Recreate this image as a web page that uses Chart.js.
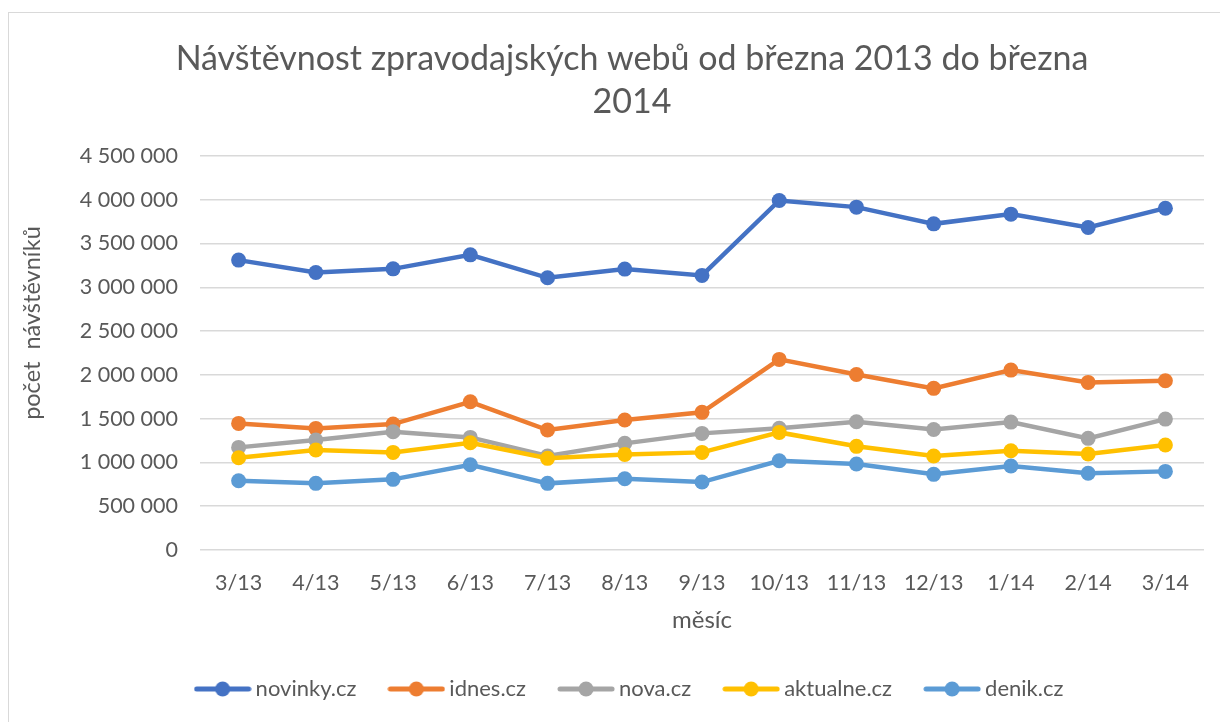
<!DOCTYPE html>
<html lang="cs">
<head>
<meta charset="utf-8">
<title>Návštěvnost zpravodajských webů</title>
<script src="https://cdn.jsdelivr.net/npm/chart.js@4"></script>
<style>
  html, body { margin: 0; padding: 0; background: #fff; overflow: hidden; }
  #frame {
    position: absolute; left: 8px; top: 12px;
    width: 1246px; height: 720px;
    border: 1px solid #d9d9d9;
  }
  #chart { display: block; }
</style>
</head>
<body>
<div id="frame"><canvas id="chart" width="1246" height="710"></canvas></div>
<script>
// měsíce (osa x)
const months = ['3/13', '4/13', '5/13', '6/13', '7/13', '8/13', '9/13', '10/13', '11/13', '12/13', '1/14', '2/14', '3/14'];

// počet návštěvníků
const novinky  = [3311000, 3170000, 3211000, 3371000, 3109000, 3208000, 3136000, 3992000, 3916000, 3725000, 3836000, 3684000, 3904000];
const idnes    = [1446000, 1389000, 1438000, 1693000, 1370000, 1484000, 1572000, 2177000, 2005000, 1846000, 2055000, 1914000, 1933000];
const nova     = [1172000, 1256000, 1351000, 1286000, 1073000, 1218000, 1332000, 1390000, 1465000, 1377000, 1461000, 1275000, 1495000];
const aktualne = [1054000, 1142000, 1115000, 1225000, 1047000, 1092000, 1115000, 1343000, 1184000, 1073000, 1134000, 1096000, 1199000];
const denik    = [791000, 761000, 807000, 974000, 761000, 814000, 776000, 1019000, 982000, 864000, 959000, 876000, 898000];

const seriesNames  = ['novinky.cz', 'idnes.cz', 'nova.cz', 'aktualne.cz', 'denik.cz'];
const seriesData   = [novinky, idnes, nova, aktualne, denik];
const seriesColors = ['#4472C4', '#ED7D31', '#A5A5A5', '#FFC000', '#5B9BD5'];

const TEXT = '#595959';
const FONT = 'Lato, "Open Sans", sans-serif';

// značka legendy: čára s kolečkem uprostřed
function legendMarker(color) {
  const c = document.createElement('canvas');
  c.width = 58; c.height = 18;
  const g = c.getContext('2d');
  g.strokeStyle = color;
  g.lineWidth = 5;
  g.lineCap = 'round';
  g.beginPath(); g.moveTo(3, 9); g.lineTo(55, 9); g.stroke();
  g.fillStyle = color;
  g.beginPath(); g.arc(29, 9, 7.5, 0, Math.PI * 2); g.fill();
  return c;
}

// mezera jako oddělovač tisíců
const fmt = v => String(v).replace(/\B(?=(\d{3})+(?!\d))/g, ' ');

// titulek osy y (posunutý nad střed, jako v Excelu)
const yAxisTitle = {
  id: 'yAxisTitle',
  afterDraw(chart) {
    const { ctx, chartArea } = chart;
    ctx.save();
    ctx.translate(23, (chartArea.top + chartArea.bottom) / 2 - 30);
    ctx.rotate(-Math.PI / 2);
    ctx.font = '23.5px ' + FONT;
    ctx.fillStyle = TEXT;
    ctx.textAlign = 'center';
    ctx.textBaseline = 'middle';
    ctx.fillText('počet  návštěvníků', 0, 0);
    ctx.restore();
  }
};

const datasets = seriesNames.map((name, i) => ({
  label: name,
  data: seriesData[i],
  yAxisID: 'y',
  borderColor: seriesColors[i],
  backgroundColor: seriesColors[i],
  pointBackgroundColor: seriesColors[i],
  pointBorderWidth: 0,
  pointRadius: 7.5,
  pointStyle: 'circle',
  legendImg: legendMarker(seriesColors[i]),
  borderWidth: 4.5,
  tension: 0,
  order: seriesNames.length - i
}));

new Chart(document.getElementById('chart'), {
  type: 'line',
  data: { labels: months, datasets },
  options: {
    responsive: false,
    animation: false,
    layout: { padding: { left: 0, right: 0, top: 0, bottom: 13 } },
    plugins: {
      tooltip: { enabled: false },
      title: {
        display: true,
        text: ['Návštěvnost zpravodajských webů od března 2013 do března', '2014'],
        color: TEXT,
        font: { family: FONT, size: 34, weight: 'normal', lineHeight: '43px' },
        padding: { top: 25, bottom: 32 }
      },
      legend: {
        position: 'bottom',
        labels: {
          color: TEXT,
          font: { family: FONT, size: 22 },
          usePointStyle: true,
          pointStyleWidth: 44,
          padding: 38,
          sort: (a, b) => a.datasetIndex - b.datasetIndex,
          generateLabels(chart) {
            return chart.data.datasets.map((d, i) => ({
              text: d.label,
              fillStyle: d.borderColor,
              strokeStyle: d.borderColor,
              lineWidth: 0,
              pointStyle: d.legendImg,
              fontColor: TEXT,
              hidden: false,
              datasetIndex: i
            }));
          }
        }
      }
    },
    scales: {
      x: {
        offset: true,
        grid: { display: false, drawTicks: false },
        border: { display: false },
        ticks: { color: TEXT, font: { family: FONT, size: 21.5 }, padding: 20, maxRotation: 0 },
        title: {
          display: true, text: 'měsíc', color: TEXT,
          font: { family: FONT, size: 24 },
          padding: { top: 4, bottom: 5 }
        },
        afterFit(scale) { scale.height = 90; }
      },
      y: {
        min: 0,
        max: 4500000,
        grid: { color: '#d9d9d9', lineWidth: 1.5, drawTicks: false },
        border: { display: false },
        ticks: {
          stepSize: 500000,
          color: TEXT,
          font: { family: FONT, size: 21.5 },
          padding: 22,
          callback: v => fmt(v)
        },
        afterFit(scale) { scale.width = 191; }
      },
      // prázdný okraj vpravo, aby titulek i legenda zůstaly na středu celého rámu
      yRight: {
        position: 'right',
        grid: { display: false, drawTicks: false },
        border: { display: false },
        ticks: { display: false },
        afterFit(scale) { scale.width = 51; }
      }
    }
  },
  plugins: [yAxisTitle]
});
</script>
</body>
</html>
